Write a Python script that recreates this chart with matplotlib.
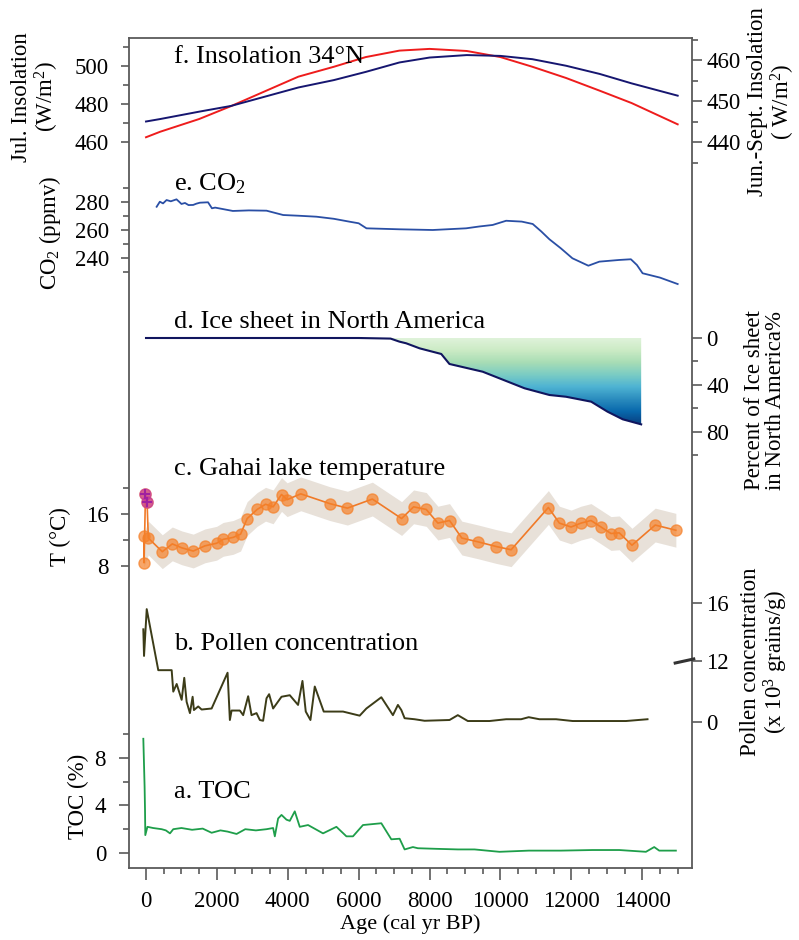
import numpy as np
import matplotlib.pyplot as plt
from matplotlib.patches import PathPatch
from matplotlib.colors import LinearSegmentedColormap

plt.rcParams['font.family'] = ['Liberation Serif', 'DejaVu Serif']
plt.rcParams['mathtext.fontset'] = 'custom'
plt.rcParams['mathtext.rm'] = 'Liberation Serif'
plt.rcParams['mathtext.it'] = 'Liberation Serif:italic'

# f. insolation 34N
ins_age = [0, 400, 1500, 2400, 4300, 5300, 6200, 7150, 8000, 9050, 10000, 10900, 11850, 12800, 13700, 15000]
jul_ins = [462.5, 465.4, 472.1, 478.9, 494.4, 499.6, 504.7, 508.1, 509.0, 507.9, 504.7, 499.6, 493.7, 487.0, 480.5, 469.3]
jjas_ins = [445.0, 445.6, 447.4, 448.8, 453.3, 455.1, 457.1, 459.4, 460.6, 461.2, 461.0, 460.2, 458.6, 456.6, 454.3, 451.3]

# e. CO2
co2_age = [300, 390, 480, 580, 700, 860, 930, 1000, 1100, 1200, 1330, 1420, 1520, 1750, 1860, 1950, 2450, 2900,
           3400, 3870, 4300, 4810, 5300, 5750, 6000, 6220, 7150, 8090, 9030, 9400, 9780, 10160, 10600, 10910,
           11150, 11380, 11700, 12030, 12480, 12790, 13350, 13680, 13850, 14010, 14500, 15000]
co2_val = [276.6, 280.2, 279.0, 281.4, 280.5, 281.9, 280.3, 278.6, 279.3, 277.8, 277.9, 278.8, 279.5, 279.8, 275.5,
           276.0, 273.6, 274.0, 273.8, 270.7, 270.2, 269.5, 268.0, 265.9, 264.8, 261.2, 260.5, 260.0, 261.2, 262.5,
           263.6, 266.6, 266.0, 264.3, 259.0, 253.4, 247.0, 239.8, 234.5, 237.4, 238.6, 239.1, 235.0, 229.1, 226.0,
           221.4]

# d. ice sheet in North America (%)
ice_age = [0, 3000, 6000, 6900, 7150, 7340, 7720, 8330, 8560, 9500, 10680, 11380, 11850, 12560, 13020, 13450, 13970]
ice_val = [0, 0, 0, 0.5, 3.1, 4.5, 8.8, 13.6, 22.1, 28.7, 42.8, 48.5, 50.0, 54.2, 62.7, 69.2, 73.5]

# c. Gahai lake temperature
t_age = [-50, -55, -15, 30, 65, 459, 741, 1006, 1332, 1662, 1992, 2177, 2459, 2668, 2854, 3135, 3372, 3586, 3823,
         3980, 4366, 5183, 5682, 6386, 7211, 7549, 7907, 8234, 8563, 8910, 9380, 9879, 10301, 11352, 11662, 11992,
         12273, 12555, 12837, 13118, 13352, 13710, 14366, 14949]
t_val = [12.6, 8.5, 19.1, 17.8, 12.3, 10.2, 11.4, 10.8, 10.3, 11.1, 11.5, 12.1, 12.4, 12.9, 15.3, 16.7, 17.5, 17.1,
         19.0, 18.2, 19.1, 17.6, 16.9, 18.3, 15.3, 17.1, 16.7, 14.6, 15.0, 12.3, 11.7, 11.0, 10.5, 17.0, 14.6, 14.0,
         14.6, 15.0, 14.0, 13.0, 13.1, 11.2, 14.3, 13.5]
t_err = 2.6
modern_age = [-15, 30]
modern_val = [19.1, 17.8]

# b. pollen concentration (x10^3 grains/g)
pol_age = [-76, -56, 20, 346, 724, 769, 865, 1006, 1079, 1146, 1239, 1315, 1352, 1473, 1569, 1851, 2301, 2366, 2414,
           2648, 2741, 2882, 2977, 3118, 3211, 3304, 3400, 3473, 3586, 3823, 4056, 4290, 4414, 4507, 4639, 4761,
           5014, 5558, 6028, 6217, 6639, 6966, 7107, 7203, 7296, 7577, 7859, 8563, 8797, 9079, 9690, 10161, 10583,
           10797, 11099, 11569, 12037, 13541, 14149]
pol_val = [14.2, 12.35, 15.6, 10.2, 10.2, 6.0, 7.5, 4.4, 8.7, 4.0, 1.8, 5.0, 2.4, 3.1, 2.5, 2.7, 9.7, 0.45, 2.3,
           2.3, 1.4, 5.1, 1.4, 1.8, 0.45, 0.3, 4.7, 5.5, 2.7, 5.0, 5.3, 3.4, 8.1, 2.1, 0.45, 7.0,
           2.1, 2.1, 1.3, 2.7, 4.9, 1.4, 3.4, 2.4, 0.8, 0.6, 0.3, 0.45, 1.4, 0.25, 0.25, 0.6, 0.6,
           1.0, 0.6, 0.6, 0.25, 0.25, 0.6]

# a. TOC (%)
toc_age = [-76, -40, -28, -20, 40, 200, 442, 560, 676, 769, 1000, 1300, 1600, 1851, 2100, 2300, 2555, 2800, 3100,
           3400, 3586, 3634, 3727, 3823, 3963, 4056, 4197, 4338, 4572, 4994, 5372, 5654, 5839, 6121, 6639, 6921,
           7155, 7296, 7530, 7670, 8200, 8800, 9268, 9972, 10800, 11700, 12600, 13352, 14104, 14338, 14479, 14949]
toc_val = [9.6, 5.6, 3.6, 1.5, 2.2, 2.1, 2.0, 1.9, 1.65, 2.0, 2.1, 1.95, 2.05, 1.7, 1.9, 1.8, 1.6, 2.0, 1.9,
           2.0, 2.1, 1.4, 2.9, 3.2, 2.8, 2.7, 3.5, 2.2, 2.35, 1.65, 2.2, 1.4, 1.4, 2.35, 2.5, 1.15,
           1.2, 0.3, 0.5, 0.4, 0.35, 0.3, 0.3, 0.1, 0.2, 0.2, 0.25, 0.25, 0.1, 0.5, 0.2, 0.2]

W, H = 799, 940
fig = plt.figure(figsize=(W / 100, H / 100), dpi=100)
L, R, TOP, BOT = 129, 691.5, 38, 868
spine_c = '#5a5a5a'
tick_fs = 16.5

frame = fig.add_axes([L / W, 1 - BOT / H, (R - L) / W, (BOT - TOP) / H])
frame.set_xlim(-480, 15390)
frame.set_xticks(range(0, 14001, 2000))
frame.set_xticks(range(0, 15001, 500), minor=True)
frame.set_yticks([])
for s in frame.spines.values():
    s.set_color(spine_c)
    s.set_linewidth(1.3)
frame.tick_params(axis='x', which='major', direction='out', length=8.5, width=1.2, color=spine_c,
                  labelsize=tick_fs, pad=8)
frame.tick_params(axis='x', which='minor', direction='out', length=4.5, width=1.2, color=spine_c)
frame.set_xlabel('Age (cal yr BP)', fontsize=16, labelpad=2)


def panel(top, bot, ref_val, ref_px, ppu, side='left', invert=False):
    ax = fig.add_axes([L / W, 1 - bot / H, (R - L) / W, (bot - top) / H], sharex=frame)
    ax.patch.set_alpha(0)
    for s in ax.spines.values():
        s.set_visible(False)
    ax.xaxis.set_visible(False)
    if invert:
        ax.set_ylim(ref_val + (bot - ref_px) / ppu, ref_val - (ref_px - top) / ppu)
    else:
        ax.set_ylim(ref_val - (bot - ref_px) / ppu, ref_val + (ref_px - top) / ppu)
    if side == 'right':
        ax.yaxis.tick_right()
        ax.tick_params(axis='y', which='major', length=7.5, width=1.2, color=spine_c, labelsize=tick_fs, pad=3)
        ax.tick_params(axis='y', which='minor', length=4, width=1.2, color=spine_c)
    else:
        ax.tick_params(axis='y', which='major', length=5.5, width=1.2, color=spine_c, labelsize=tick_fs, pad=9)
        ax.tick_params(axis='y', which='minor', length=4, width=1.2, color=spine_c)
    return ax


# f
axf = panel(38, 170, 460, 142, 1.9)
axf.set_yticks([460, 480, 500])
axf.set_yticks([470, 490, 510], minor=True)
axf.plot(ins_age, jul_ins, color='#ee1c1c', lw=1.4)
axf2 = panel(38, 170, 440, 142, 4.1, side='right')
axf2.set_yticks([440, 450, 460])
axf2.set_yticks([435, 445, 455, 465], minor=True)
axf2.plot(ins_age, jjas_ins, color='#161670', lw=1.4)

# e
axe = panel(175, 292, 280, 202, 1.4)
axe.set_yticks([240, 260, 280])
axe.set_yticks([230, 250, 270, 290], minor=True)
axe.plot(co2_age, co2_val, color='#2a4fa5', lw=1.3)

# d
axd = panel(300, 460, 0, 338, 1.175, side='right', invert=True)
axd.set_yticks([0, 40, 80])
axd.set_yticks([20, 60, 100], minor=True)
cm = LinearSegmentedColormap.from_list('ice', plt.get_cmap('GnBu')(np.linspace(0.12, 1.0, 256)))
grad = np.linspace(0, 1, 256).reshape(-1, 1)
im = axd.imshow(grad, cmap=cm, aspect='auto', extent=(ice_age[3], ice_age[-1], max(ice_val), 0), zorder=1)
fb = axd.fill_between(ice_age, 0, ice_val, facecolor='none', edgecolor='none')
clip = PathPatch(fb.get_paths()[0], transform=axd.transData, facecolor='none', edgecolor='none')
axd.add_patch(clip)
im.set_clip_path(clip)
axd.plot(ice_age, ice_val, color='#10155e', lw=1.5, zorder=3)
axd.set_ylim(0 + (460 - 338) / 1.175, 0 - (338 - 300) / 1.175)
axd.set_xlim(-480, 15390)

# c
axc = panel(470, 590, 16, 514, 6.5)
axc.set_yticks([8, 16])
axc.set_yticks([12, 20], minor=True)
band_age = np.concatenate([[-60], t_age[4:]])
band_val = np.concatenate([[10.5], t_val[4:]])
axc.fill_between(band_age, band_val - t_err, band_val + t_err, color='#e4dcd3', alpha=0.85, lw=0)
axc.plot(t_age, t_val, color='#f07a28', lw=1.2, marker='o', ms=8, mfc=(0.96, 0.5, 0.16, 0.7),
         mec=(0.96, 0.5, 0.16, 0.7), zorder=3)
axc.plot(modern_age, modern_val, ls='none', marker='o', ms=8, mfc=(0.75, 0.2, 0.65, 0.6),
         mec=(0.75, 0.2, 0.65, 0.6), zorder=4)
axc.plot(modern_age, modern_val, ls='none', marker='+', ms=7, mew=1.5, color='#a020a0', zorder=5)


# b, broken axis above 12
def fwd(v):
    v = np.asarray(v, dtype=float)
    return np.where(v <= 12, v * 5.11, 61.32 + (v - 12) * 14.4)


def inv(u):
    u = np.asarray(u, dtype=float)
    return np.where(u <= 61.32, u / 5.11, 12 + (u - 61.32) / 14.4)


axb = fig.add_axes([L / W, 1 - 740 / H, (R - L) / W, 150 / H], sharex=frame)
axb.patch.set_alpha(0)
for s in axb.spines.values():
    s.set_visible(False)
axb.xaxis.set_visible(False)
axb.set_yscale('function', functions=(fwd, inv))
axb.set_ylim(-17.7 / 5.11, 12 + (132.3 - 61.32) / 14.4)
axb.yaxis.tick_right()
axb.set_yticks([0, 12, 16])
axb.set_yticks([], minor=True)
axb.tick_params(axis='y', which='major', length=7.5, width=1.2, color=spine_c, labelsize=tick_fs, pad=3)
axb.plot(pol_age, pol_val, color='#3c3c18', lw=1.4)
axb.plot([0.971, 1.004], [11.6, 12.14], color='#333333', lw=2.2, clip_on=False,
         transform=axb.get_yaxis_transform())

# a
axa = panel(725, 868, 0, 853, 11.9)
axa.set_yticks([0, 4, 8])
axa.set_yticks([2, 6, 10], minor=True)
axa.tick_params(axis='y', which='major', length=7.5)
axa.plot(toc_age, toc_val, color='#1e9e4a', lw=1.3)

# panel titles
ts = 19
for txt, yb in [('f. Insolation 34°N', 63), ('e. CO$_2$', 190), ('d. Ice sheet in North America', 328),
                ('c. Gahai lake temperature', 475), ('b. Pollen concentration', 650), ('a. TOC', 798)]:
    fig.text(174 / W, 1 - yb / H, txt, fontsize=ts, va='baseline', ha='left')

# axis labels
ls = 16.5
lab = dict(rotation=90, ha='center', va='center', fontsize=ls, multialignment='center', linespacing=1.0)
fig.text(36 / W, 1 - 97 / H, 'Jul. Insolation\n(W/m$^2$)', **lab)
fig.text(50 / W, 1 - 233 / H, 'CO$_2$ (ppmv)', **lab)
fig.text(60 / W, 1 - 537 / H, 'T (°C)', **lab)
fig.text(78 / W, 1 - 796 / H, 'TOC (%)', **lab)
fig.text(772 / W, 1 - 102 / H, 'Jun.-Sept. Insolation\n( W/m$^2$)', **lab)
fig.text(765 / W, 1 - 400 / H, 'Percent of Ice sheet\nin North America%', **lab)
fig.text(765 / W, 1 - 662 / H, 'Pollen concentration\n(x 10$^3$ grains/g)', **lab)

fig.savefig('out.png', dpi=100)
